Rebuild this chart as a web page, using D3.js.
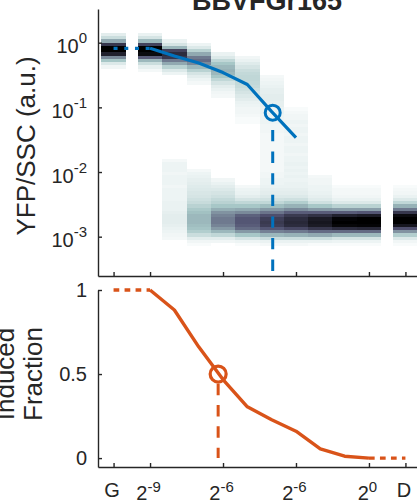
<!DOCTYPE html>
<html><head><meta charset="utf-8">
<script src="https://cdn.jsdelivr.net/npm/d3@7"></script>
<style>html,body{margin:0;padding:0;background:#fff;} svg{display:block;}</style>
</head><body>
<svg id="chart" width="417" height="503"></svg>
<script>
// ---- data -------------------------------------------------------------
// x positions are log2(inducer); the G and D controls sit off the dilution series
const tickPos   = [-10.5, -9, -6, -3, 0, 1.5];
const tickBase  = ["G", "2", "2", "2", "2", "D"];
const tickExp   = [null, "-9", "-6", "-6", "0", null];

// YFP/SSC distribution per column: segments of [top log10 edge, densities per 0.05 decade]
const binStep = 0.05;
const colPos = [-10.5, -9, -8, -7, -6, -5, -4, -3, -2, -1, 0, 1.5];
const histG  = [[0.15, [0.08,0.15,0.35,0.75,1.0,1.0,0.85,0.45,0.25,0.1,0.04]]];
const histM9 = [[0.15, [0.06,0.12,0.3,0.7,1.0,1.0,0.95,0.6,0.3,0.15,0.07,0.03]]];
const histM8 = [[0.05, [0.06,0.12,0.3,0.7,0.8,0.75,0.5,0.35,0.2,0.1,0.05]],
                [-1.8, [0.03,0.05,0.05,0.05,0.04,0.05,0.05,0.05,0.04,0.05,0.05,0.05,0.05,0.06,0.06,0.06,0.07,0.08,0.08,0.08,0.07,0.06,0.05,0.04,0.03]]];
const histM7 = [[0.0,  [0.05,0.1,0.2,0.35,0.5,0.55,0.45,0.3,0.2,0.12,0.08,0.05,0.03]],
                [-1.95,[0.03,0.05,0.06,0.07,0.08,0.09,0.1,0.11,0.12,0.14,0.16,0.2,0.24,0.27,0.3,0.3,0.3,0.28,0.26,0.22,0.15,0.08,0.04,0.02]]];
const histM6 = [[-0.15,[0.06,0.1,0.18,0.25,0.3,0.32,0.3,0.25,0.18,0.12,0.08,0.06,0.04,0.03]],
                [-2.1, [0.04,0.06,0.08,0.1,0.12,0.14,0.17,0.2,0.25,0.33,0.42,0.47,0.5,0.5,0.47,0.4,0.3,0.18,0.08,0.04]]];
const histM5 = [[-0.2, [0.04,0.06,0.09,0.12,0.15,0.17,0.18,0.18,0.17,0.16,0.14,0.12,0.1,0.08,0.06,0.05,0.04,0.04,0.03,0.02,0.02]],
                [-2.2, [0.03,0.05,0.06,0.08,0.12,0.18,0.25,0.35,0.45,0.58,0.62,0.62,0.6,0.55,0.4,0.25,0.12,0.05,0.02]]];
const histM4 = [[-0.5, [0.03,0.04,0.05,0.06,0.07,0.07,0.08,0.08,0.07,0.07,0.06,0.06,0.05,0.05,0.05,0.04,0.04,0.04,0.03,0.03,0.03,0.03,0.03,0.03,0.03,0.03]],
                [-1.8, [0.03,0.03,0.03,0.03,0.04,0.04,0.05,0.05,0.06,0.07,0.08,0.1,0.13,0.18,0.28,0.4,0.52,0.65,0.72,0.74,0.72,0.62,0.48,0.3,0.15,0.06,0.03]]];
const histM3 = [[-1.0, [0.02,0.03,0.04,0.04,0.05,0.04,0.05,0.05,0.04,0.05,0.05,0.04,0.05,0.05,0.04,0.05]],
                [-1.8, [0.05,0.06,0.05,0.06,0.05,0.06,0.05,0.06,0.06,0.07,0.08,0.1,0.14,0.22,0.32,0.45,0.6,0.74,0.8,0.82,0.8,0.68,0.5,0.32,0.15,0.06,0.03]]];
const histM2 = [[-2.05,[0.03,0.04,0.04,0.05,0.05,0.06,0.07,0.09,0.14,0.25,0.4,0.6,0.78,0.88,0.9,0.88,0.75,0.55,0.35,0.15,0.06,0.02]]];
const histM1 = [[-2.2, [0.02,0.03,0.03,0.04,0.06,0.1,0.2,0.38,0.6,0.85,0.98,1.0,0.97,0.8,0.55,0.3,0.12,0.05,0.02]]];
const hist0  = [[-2.2, [0.02,0.03,0.03,0.04,0.06,0.1,0.2,0.38,0.62,0.88,1.0,1.0,0.98,0.82,0.55,0.3,0.12,0.05,0.02]]];
const histD  = [[-2.2, [0.02,0.03,0.04,0.06,0.1,0.18,0.32,0.5,0.75,0.95,1.0,1.0,0.9,0.65,0.42,0.22,0.1,0.04,0.02]]];
const columnHists = [histG, histM9, histM8, histM7, histM6, histM5, histM4, histM3, histM2, histM1, hist0, histD];

// median YFP/SSC of the induced population
const yfpX   = [-9, -8, -7, -6, -5, -4, -3];
const yfpMed = [0.819, 0.623, 0.485, 0.345, 0.226, 0.0857, 0.034];
const yfpHalf = [-3.957, 0.0827];

// induced fraction
const fracX   = [-9, -8, -7, -6, -5, -4, -3, -2, -1, 0];
const fracVal = [1.0, 0.881, 0.662, 0.467, 0.305, 0.228, 0.16, 0.055, 0.011, 0.0];
const fracHalf = [-6.2, 0.5];
const gValue = { yfp: 0.819, frac: 1.0 };
const dValue = { frac: 0.0 };

// ---- drawing ----------------------------------------------------------
const FONT = '"Liberation Sans", Arial, Helvetica, sans-serif';
const INK = "#262626";
const BLUE = "#0072BD", ORANGE = "#D95319";
const svg = d3.select("#chart");

const x = d3.scaleLinear().domain([-11.14, 2.14]).range([98, 421]);
const yTop = d3.scaleLog().domain([Math.pow(10, -3.608), Math.pow(10, 0.521)]).range([276, 9]);
const yBot = d3.scaleLinear().domain([-0.053, 1]).range([467, 290]);

// reversed "bone" colour map
const color = d3.scaleLinear()
  .domain([0, 0.254, 0.635, 1])
  .range(["#ffffff", "rgb(166,198,198)", "rgb(81,81,113)", "#000000"])
  .clamp(true);

// heat-map cells
const cells = [];
columnHists.forEach((segs, ci) => {
  segs.forEach(([top, vals]) => {
    vals.forEach((v, i) => {
      const hi = top - i * binStep;
      cells.push({ k: colPos[ci], hi: hi, lo: hi - binStep, v: v });
    });
  });
});
svg.append("g").attr("shape-rendering", "crispEdges")
  .selectAll("rect").data(cells).join("rect")
  .attr("x", d => x(d.k - 0.5))
  .attr("width", d => x(d.k + 0.5) - x(d.k - 0.5))
  .attr("y", d => yTop(Math.pow(10, d.hi)))
  .attr("height", d => yTop(Math.pow(10, d.lo)) - yTop(Math.pow(10, d.hi)))
  .attr("fill", d => color(d.v));

// axes
function styleAxis(g) {
  g.selectAll("path, line").attr("stroke", INK).attr("stroke-width", 1.4);
  g.selectAll("text").remove();
}
svg.append("g").attr("transform", "translate(98,0)")
  .call(d3.axisLeft(yTop).tickValues([1e-3, 1e-2, 1e-1, 1]).tickSizeInner(-4).tickSizeOuter(0).tickFormat(""))
  .call(styleAxis);
svg.append("g").attr("transform", "translate(0,276)")
  .call(d3.axisBottom(x).tickValues(tickPos).tickSizeInner(-4).tickSizeOuter(0).tickFormat(""))
  .call(styleAxis);
svg.append("g").attr("transform", "translate(98,0)")
  .call(d3.axisLeft(yBot).tickValues([0, 0.5, 1]).tickSizeInner(-4).tickSizeOuter(0).tickFormat(""))
  .call(styleAxis);
svg.append("g").attr("transform", "translate(0,467)")
  .call(d3.axisBottom(x).tickValues(tickPos).tickSizeInner(-4).tickSizeOuter(0).tickFormat(""))
  .call(styleAxis);

// y tick labels (top, log decades)
[1, 0.1, 0.01, 0.001].forEach(v => {
  const t = svg.append("text").attr("x", 87).attr("y", yTop(v) + 10.5)
    .attr("text-anchor", "end").attr("font-family", FONT).attr("font-size", 20).attr("fill", INK);
  t.append("tspan").text("10");
  t.append("tspan").attr("font-size", 15).attr("dy", -10).text(String(Math.round(Math.log10(v))));
});
// y tick labels (bottom)
[[0, "0"], [0.5, "0.5"], [1, "1"]].forEach(([v, s]) => {
  svg.append("text").attr("x", 87).attr("y", yBot(v) + 7)
    .attr("text-anchor", "end").attr("font-family", FONT).attr("font-size", 20).attr("fill", INK).text(s);
});
// x tick labels
tickPos.forEach((p, i) => {
  const t = svg.append("text").attr("x", x(p) - 1.5)
    .attr("y", tickExp[i] ? 500.3 : 497.3)
    .attr("text-anchor", "middle").attr("font-family", FONT).attr("font-size", 20).attr("fill", INK);
  t.append("tspan").text(tickBase[i]);
  if (tickExp[i]) t.append("tspan").attr("font-size", 15).attr("dy", -8).text(tickExp[i]);
});

// axis titles
svg.append("text").attr("transform", "translate(35,146) rotate(-90)")
  .attr("text-anchor", "middle").attr("font-family", FONT).attr("font-size", 26).attr("fill", INK)
  .text("YFP/SSC (a.u.)");
svg.append("text").attr("transform", "translate(13.5,374) rotate(-90)")
  .attr("text-anchor", "middle").attr("font-family", FONT).attr("font-size", 26).attr("fill", INK)
  .text("Induced");
svg.append("text").attr("transform", "translate(41.7,374) rotate(-90)")
  .attr("text-anchor", "middle").attr("font-family", FONT).attr("font-size", 26).attr("fill", INK)
  .text("Fraction");
svg.append("text").attr("x", 267).attr("y", 10)
  .attr("text-anchor", "middle").attr("font-family", FONT).attr("font-size", 27)
  .attr("font-weight", "bold").attr("fill", INK).text("BBVFGr165");

// median line
const lineTop = d3.line().x(d => x(d[0])).y(d => yTop(d[1]));
svg.append("path").datum([[-10.5, gValue.yfp], [-9, yfpMed[0]]]).attr("d", lineTop)
  .attr("fill", "none").attr("stroke", BLUE).attr("stroke-width", 3.2).attr("stroke-dasharray", "4,6.7");
svg.append("path").datum(yfpX.map((k, i) => [k, yfpMed[i]])).attr("d", lineTop)
  .attr("fill", "none").attr("stroke", BLUE).attr("stroke-width", 3.2).attr("stroke-linejoin", "round");
const bx = x(yfpHalf[0]), by = yTop(yfpHalf[1]);
svg.append("line").attr("x1", bx).attr("x2", bx).attr("y1", by + 17.3).attr("y2", yTop.range()[0])
  .attr("stroke", BLUE).attr("stroke-width", 3).attr("stroke-dasharray", "11.3,10.3");
svg.append("circle").attr("cx", bx).attr("cy", by).attr("r", 7.5)
  .attr("fill", "none").attr("stroke", BLUE).attr("stroke-width", 3);

// induced fraction line
const lineBot = d3.line().x(d => x(d[0])).y(d => yBot(d[1]));
svg.append("path").datum([[-10.5, gValue.frac], [-9, fracVal[0]]]).attr("d", lineBot)
  .attr("fill", "none").attr("stroke", ORANGE).attr("stroke-width", 3.4).attr("stroke-dasharray", "5.7,5.3");
svg.append("path").datum([[0, fracVal[fracVal.length - 1]], [1.5, dValue.frac]]).attr("d", lineBot)
  .attr("fill", "none").attr("stroke", ORANGE).attr("stroke-width", 3.4).attr("stroke-dasharray", "5.7,5.3");
svg.append("path").datum(fracX.map((k, i) => [k, fracVal[i]])).attr("d", lineBot)
  .attr("fill", "none").attr("stroke", ORANGE).attr("stroke-width", 3.4).attr("stroke-linejoin", "round");
const ox = x(fracHalf[0]), oy = yBot(fracHalf[1]);
svg.append("line").attr("x1", ox).attr("x2", ox).attr("y1", oy + 9.7).attr("y2", yBot(0))
  .attr("stroke", ORANGE).attr("stroke-width", 3).attr("stroke-dasharray", "11.5,9.8");
svg.append("circle").attr("cx", ox).attr("cy", oy).attr("r", 8)
  .attr("fill", "none").attr("stroke", ORANGE).attr("stroke-width", 3.2);
</script>
</body></html>
